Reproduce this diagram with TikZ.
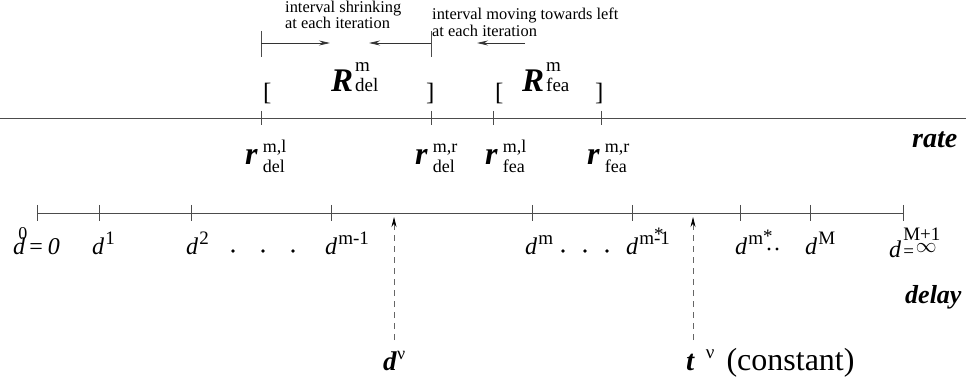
\documentclass[tikz,border=0pt]{standalone}
\usepackage{fontspec}
\setmainfont{Liberation Serif}
\usetikzlibrary{arrows.meta}

\newcommand{\fs}[1]{\fontsize{#1}{#1}\selectfont}
\newcommand{\sups}[1]{\kern1pt\raisebox{10pt}{\fs{19}#1}}
\newcommand{\rlbl}[2]{\textbf{\textit{r}}\kern5pt\rlap{\raisebox{12pt}{\fs{18}#1}}\raisebox{-8pt}{\fs{18}#2}}
\newcommand{\Rlbl}[2]{\textbf{\textit{R}}\kern2pt\rlap{\raisebox{20pt}{\fs{19}#1}}{\fs{19}#2}}

\begin{document}
\begin{tikzpicture}[x=1pt,y=-1pt,>=Stealth,
 axis/.style={line width=0.9pt,black!70},
 meas/.style={line width=0.8pt,black!80,-{Stealth[length=11pt,width=5pt]}},
 dasharr/.style={line width=0.7pt,black!60,dash pattern=on 6pt off 5pt,
   -{Stealth[length=10pt,width=5pt,black]}},
 note/.style={anchor=north west,inner sep=0pt,align=left,font=\fs{16.4}},
 brk/.style={anchor=base west,inner sep=0pt,font=\fs{25}},
 lbl/.style={anchor=base west,inner sep=0pt,font=\fs{24}},
 rl/.style={anchor=base west,inner sep=0pt,font=\fs{32}},
 Rl/.style={anchor=base west,inner sep=0pt,font=\fs{33}},
 axname/.style={anchor=base west,inner sep=0pt,font=\fs{28}\bfseries\itshape}]
\useasboundingbox (0,0) rectangle (966,387);
% notes on top
\node[note] (shrink) at (285,1) {interval shrinking\\at each iteration};
\node[note] (moving) at (432,8) {interval moving towards left\\at each iteration};
\coordinate (ml) at (261,43);
\coordinate (mr) at (431,43);
\coordinate (mla) at (330,43);
\coordinate (mra) at (369,43);
\coordinate (fs) at (525,43);
\coordinate (fe) at (477,43);
\draw[axis] (261,31) -- (261,57);
\draw[axis] (431,31) -- (431,57);
\draw[meas] (ml) -- (mla);
\draw[meas] (mr) -- (mra);
\draw[meas] (fs) -- (fe);
% intervals
\node[Rl] (Rdel) at (331,92) {\Rlbl{m}{del}};
\node[Rl] (Rfea) at (522,92) {\Rlbl{m}{fea}};
\node[brk] (bdl) at (263,101) {[};
\node[brk] (bdr) at (426,101) {]};
\node[brk] (bfl) at (495,101) {[};
\node[brk] (bfr) at (595,101) {]};
% rate axis
\coordinate (ra) at (0,118);
\coordinate (rb) at (966,118);
\draw[axis] (ra) -- (rb);
\foreach \x in {261,431,493,601}
  \draw[axis] (\x,111) -- (\x,125);
\node[rl] (rdl) at (245,165) {\rlbl{m,l}{del}};
\node[rl] (rdr) at (415,165) {\rlbl{m,r}{del}};
\node[rl] (rfl) at (485,165) {\rlbl{m,l}{fea}};
\node[rl] (rfr) at (587,165) {\rlbl{m,r}{fea}};
\node[axname] (rate) at (912,148) {rate};
% delay axis
\coordinate (da) at (37,213);
\coordinate (db) at (903,213);
\draw[axis] (da) -- (db);
\foreach \x in {37,99,191,331,532,632,740,810,903}
  \draw[axis] (\x,205) -- (\x,221);
\node[lbl] (d0) at (13,255) {\textit{d}\kern-7pt\raisebox{15pt}{\fs{18}0}\kern2pt=\kern5pt\textit{0}};
\node[lbl] (d1) at (92,255) {\textit{d}\sups{1}};
\node[lbl] (d2) at (186,255) {\textit{d}\sups{2}};
\node[lbl] (dm1) at (325,255) {\textit{d}\sups{m-1}};
\node[lbl] (dm) at (525,255) {\textit{d}\sups{m}};
\node[lbl] (dms1) at (626,255) {\textit{d}\sups{m\rlap{\raisebox{4pt}{*}}-1}};
\node[lbl] (dms) at (735,255) {\textit{d}\sups{m\raisebox{3pt}{*}}};
\node[lbl] (dM) at (805,255) {\textit{d}\sups{M}};
\node[lbl] (dM1) at (889,258) {\textit{d}\kern2pt\rlap{\raisebox{17pt}{\fs{19}M+1}}{\fs{19}=}\kern2pt\raisebox{5pt}{\fs{21}$\infty$}};
\foreach \x in {233,263,293,563,585,607}
  \fill (\x,251) circle (1.8);
\fill (769,249) circle (1.6) (777,249) circle (1.6);
\node[axname,font=\fs{26}\bfseries\itshape] (delay) at (905,303) {delay};
% current point and target
\coordinate (dvs) at (394,340);
\coordinate (dve) at (394,217);
\coordinate (tvs) at (693,340);
\coordinate (tve) at (693,217);
\draw[dasharr] (dvs) -- (dve);
\draw[dasharr] (tvs) -- (tve);
\node[lbl,font=\fs{27}] (dnu) at (383,370) {\textbf{\textit{d}}\raisebox{11pt}{\fs{18}ν}};
\node[lbl,font=\fs{29}] (tnu) at (686,370) {\textbf{\textit{t}}\kern11pt\raisebox{12pt}{\fs{19}ν}\kern12pt{\fs{32}(constant)}};
\end{tikzpicture}
\end{document}
